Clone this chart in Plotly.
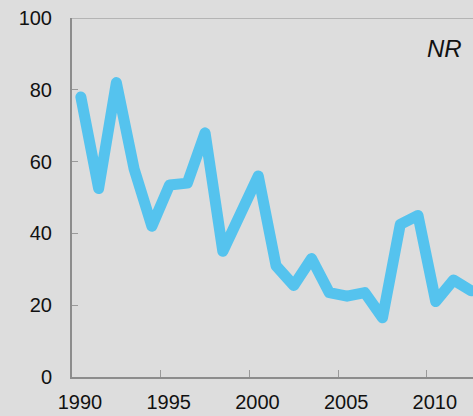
import plotly.graph_objects as go

years = list(range(1990, 2013))
nr = [78, 52.5, 82, 58, 42, 53.5, 54, 68, 35, 46, 56, 31, 25.5, 33,
      23.5, 22.5, 23.5, 16.5, 42.5, 45, 21, 27, 24]
y_ticks = [0, 20, 40, 60, 80, 100]
x_ticks = [1990, 1995, 2000, 2005, 2010]

# values are annual, drawn at mid-year
x_mid = [y + 0.5 for y in years]

fig = go.Figure()
fig.add_trace(go.Scatter(
    x=x_mid, y=nr, mode='lines',
    line=dict(color='#55c3ee', width=11),
    showlegend=False, hoverinfo='skip',
))

# top frame line
fig.add_shape(type='line', xref='paper', yref='y', x0=0, x1=1, y0=100, y1=100,
              line=dict(color='#a6a6a6', width=1.5), layer='below')

fig.add_annotation(text='<i>NR</i>', xref='paper', yref='paper', x=1, y=0.915,
                   xanchor='right', yanchor='middle', showarrow=False,
                   xshift=-9, font=dict(size=24, color='#111'))

fig.update_layout(
    width=473, height=416,
    margin=dict(l=72, r=0, t=18, b=39),
    paper_bgcolor='#dddddd', plot_bgcolor='#dddddd',
    font=dict(family='Liberation Sans, Arial, sans-serif', size=20, color='#111'),
)
fig.update_xaxes(
    range=[1990, 2012.6], tickvals=x_ticks, showgrid=False, zeroline=False,
    showline=True, linecolor='#8c8c8c', linewidth=2,
    ticks='inside', ticklen=7, tickcolor='#9a9a9a', tickwidth=1,
    ticklabelshift=8, ticklabelstandoff=6,
)
fig.update_yaxes(
    range=[0, 100], tickvals=y_ticks, showgrid=False, zeroline=False,
    showline=True, linecolor='#8c8c8c', linewidth=2,
    ticks='inside', ticklen=6, tickcolor='#9a9a9a', tickwidth=1,
    ticklabelstandoff=14,
)

# no page margin, rounded line joins like the original
post = """
document.body.style.margin = '0px';
document.body.style.overflow = 'hidden';
var st = document.createElement('style');
st.innerHTML = '.js-line{stroke-linejoin:round !important;stroke-linecap:round !important;}';
document.head.appendChild(st);
"""
fig.write_html("out.html", post_script=post, config={'displayModeBar': False})
